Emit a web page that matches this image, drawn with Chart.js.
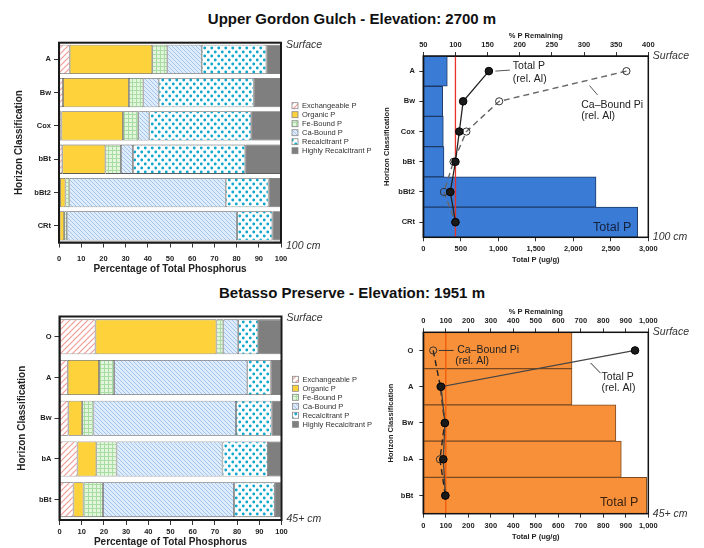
<!DOCTYPE html>
<html>
<head>
<meta charset="utf-8">
<script src="https://cdn.jsdelivr.net/npm/chart.js@4/dist/chart.umd.min.js"></script>
<style>
  html, body { margin:0; padding:0; background:#fff; }
  body { width:704px; height:548px; position:relative; overflow:hidden; font-family:"Liberation Sans", Arial, Helvetica, sans-serif; }
  canvas { position:absolute; }
  .title { position:absolute; left:0; width:704px; text-align:center; font-weight:bold; font-size:15px; line-height:18px; color:#111; }
</style>
</head>
<body>
<div class="title" style="top:10px">Upper Gordon Gulch - Elevation: 2700 m</div>
<div class="title" style="top:284px">Betasso Preserve - Elevation: 1951 m</div>
<canvas id="ggFrac" width="380" height="255" style="left:0;top:30px"></canvas>
<canvas id="ggTotal" width="324" height="245" style="left:380px;top:30px"></canvas>
<canvas id="bpFrac" width="380" height="248" style="left:0;top:300px"></canvas>
<canvas id="bpTotal" width="324" height="248" style="left:380px;top:300px"></canvas>
<script>
// ---------------- DATA ----------------
const fractionNames = ['Exchangeable P','Organic P','Fe-Bound P','Ca-Bound P','Recalcitrant P','Highly Recalcitrant P'];

// Upper Gordon Gulch (% of total phosphorus)
const ggHorizons = ['A','Bw','Cox','bBt','bBt2','CRt'];
const ggExchangeable        = [4.8, 1.8, 1.1, 1.5, 0.5, 0.3];
const ggOrganic             = [37.2, 29.7, 27.7, 19.4, 2.4, 2.0];
const ggFeBound             = [6.8, 6.5, 6.9, 7.0, 1.8, 1.2];
const ggCaBound             = [15.5, 6.9, 5.0, 5.4, 70.4, 76.7];
const ggRecalcitrant        = [29.1, 42.8, 45.9, 50.6, 19.3, 15.9];
const ggHighlyRecalcitrant  = [6.6, 12.3, 13.4, 16.1, 5.6, 3.9];
// Upper Gordon Gulch totals
const ggTotalP        = [320, 258, 267, 276, 2303, 2858];   // ug/g
const ggTotalPRelAl   = [152, 112, 106, 100, 92, 100];      // % P remaining
const ggCaBoundRelAl  = [366, 168, 117, 97, 82, 100];       // % P remaining

// Betasso Preserve (% of total phosphorus)
const bpHorizons = ['O','A','Bw','bA','bBt'];
const bpExchangeable        = [16.2, 3.7, 4.0, 8.1, 6.3];
const bpOrganic             = [54.5, 14.1, 6.2, 8.5, 4.5];
const bpFeBound             = [3.1, 6.8, 5.1, 9.1, 8.8];
const bpCaBound             = [6.7, 60.0, 64.2, 47.7, 59.0];
const bpRecalcitrant        = [9.0, 10.5, 16.0, 20.5, 18.4];
const bpHighlyRecalcitrant  = [10.5, 4.9, 4.5, 6.1, 3.0];
// Betasso totals
const bpTotalP        = [661, 661, 856, 880, 993];
const bpTotalPRelAl   = [941, 79, 96, 89, 98];
const bpCaBoundRelAl  = [44, 76, 95, 74, 98];

const ggPctTicks = { min: 50, max: 400, step: 50 };
const ggTotTicks = { min: 0, max: 3000, step: 500 };
const bpPctTicks = { min: 0, max: 1000, step: 100 };
const bpTotTicks = { min: 0, max: 1000, step: 100 };

// ---------------- STYLE ----------------
Chart.defaults.font.family = '"Liberation Sans", Arial, Helvetica, sans-serif';
Chart.defaults.color = '#222';

function tile(w, h, draw) {
  const c = document.createElement('canvas'); c.width = w; c.height = h;
  const g = c.getContext('2d'); draw(g, w, h);
  return g.createPattern(c, 'repeat');
}
const fills = [
  tile(6, 6, (g) => {
    g.fillStyle = '#ffffff'; g.fillRect(0, 0, 6, 6);
    g.strokeStyle = '#f29c96'; g.lineWidth = 1.2; g.beginPath();
    g.moveTo(-1, 7); g.lineTo(7, -1);
    g.moveTo(-1, 1); g.lineTo(1, -1);
    g.moveTo(5, 7); g.lineTo(7, 5);
    g.stroke();
  }),
  '#fdd23a',
  tile(4, 4, (g) => {
    g.fillStyle = '#e2f6dd'; g.fillRect(0, 0, 4, 4);
    g.fillStyle = '#a9dca1'; g.fillRect(0, 0, 4, 1); g.fillRect(0, 0, 1, 4);
  }),
  tile(4, 4, (g) => {
    g.fillStyle = '#deecfc'; g.fillRect(0, 0, 4, 4);
    g.strokeStyle = '#a3c4ec'; g.lineWidth = 1; g.beginPath();
    g.moveTo(-1, -1); g.lineTo(5, 5);
    g.moveTo(3, -1); g.lineTo(5, 1);
    g.moveTo(-1, 3); g.lineTo(1, 5);
    g.stroke();
  }),
  tile(7, 8, (g) => {
    g.fillStyle = '#ffffff'; g.fillRect(0, 0, 7, 8);
    g.fillStyle = '#10a8cf';
    g.beginPath(); g.arc(1.75, 2, 1.45, 0, Math.PI * 2); g.fill();
    g.beginPath(); g.arc(5.25, 6, 1.45, 0, Math.PI * 2); g.fill();
  }),
  '#7f7f7f'
];

const TICK_FONT = { size: 7.5, weight: 'bold' };
const TITLE_FONT_L = { size: 10, weight: 'bold' };
const TITLE_FONT_R = { size: 7.5, weight: 'bold' };
const ANNOT_FONT = '10.5px "Liberation Sans", Arial, sans-serif';

// ---------------- PLUGINS ----------------
const framePlugin = {
  id: 'frame',
  afterDatasetsDraw(chart, args, opts) {
    const { ctx, chartArea: a } = chart;
    ctx.save();
    ctx.strokeStyle = opts.color || '#111';
    ctx.lineWidth = opts.width || 1.5;
    ctx.strokeRect(a.left, a.top, a.right - a.left, a.bottom - a.top);
    ctx.restore();
  }
};

const sideLabelPlugin = {
  id: 'sideLabels',
  afterDraw(chart, args, opts) {
    const { ctx, chartArea: a } = chart;
    ctx.save();
    ctx.font = 'italic 10.5px "Liberation Sans", Arial, sans-serif';
    ctx.fillStyle = '#333';
    ctx.textAlign = 'left';
    ctx.textBaseline = 'middle';
    ctx.fillText(opts.top, a.right + opts.dx, a.top + opts.dyTop);
    ctx.fillText(opts.bottom, a.right + opts.dx, a.bottom + opts.dyBottom);
    ctx.restore();
  }
};

const fractionLegendPlugin = {
  id: 'fractionLegend',
  afterDraw(chart, args, opts) {
    const { ctx, chartArea: a } = chart;
    ctx.save();
    ctx.font = '7.5px "Liberation Sans", Arial, sans-serif';
    ctx.textBaseline = 'middle';
    ctx.textAlign = 'left';
    chart.data.datasets.forEach((ds, i) => {
      const y = opts.y + i * opts.step;
      const x = a.right + opts.dx;
      ctx.fillStyle = ds.backgroundColor;
      ctx.fillRect(x, y - 3, 6, 6);
      ctx.strokeStyle = '#888'; ctx.lineWidth = 0.8;
      ctx.strokeRect(x, y - 3, 6, 6);
      ctx.fillStyle = '#333';
      ctx.fillText(ds.label, x + 10, y + 0.5);
    });
    ctx.restore();
  }
};

const refLinePlugin = {
  id: 'refLine',
  afterDatasetDraw(chart, args, opts) {
    if (args.index !== 0) return;
    const { ctx, chartArea: a } = chart;
    const x = chart.scales.xTop.getPixelForValue(opts.value);
    ctx.save();
    ctx.strokeStyle = opts.color; ctx.lineWidth = opts.width;
    ctx.beginPath(); ctx.moveTo(x, a.top); ctx.lineTo(x, a.bottom); ctx.stroke();
    ctx.restore();
  }
};

function seg(ctx, x0, y0, x1, y1) {
  ctx.beginPath(); ctx.moveTo(x0, y0); ctx.lineTo(x1, y1); ctx.stroke();
}
const annotPlugin = {
  id: 'annot',
  afterDraw(chart, args, opts) {
    const ctx = chart.ctx;
    ctx.save();
    ctx.strokeStyle = '#555'; ctx.lineWidth = 1;
    ctx.fillStyle = '#222';
    ctx.font = ANNOT_FONT;
    ctx.textBaseline = 'middle'; ctx.textAlign = 'left';
    opts.draw(chart, ctx);
    ctx.restore();
  }
};

function annotateGG(chart, ctx) {
  const xs = chart.scales.xTop, ys = chart.scales.y, a = chart.chartArea;
  const px = xs.getPixelForValue(ggTotalPRelAl[0]), py = ys.getPixelForValue(0);
  seg(ctx, px + 6.5, py, px + 21, py - 1);
  ctx.fillText('Total P', px + 24, py - 4.6);
  ctx.fillText('(rel. Al)', px + 24, py + 7.7);
  const x0 = xs.getPixelForValue(ggCaBoundRelAl[1]), y0 = ys.getPixelForValue(1);
  const x1 = xs.getPixelForValue(ggCaBoundRelAl[0]), y1 = ys.getPixelForValue(0);
  const ax = x0 + 0.71 * (x1 - x0), ay = y0 + 0.71 * (y1 - y0);
  seg(ctx, ax, ay + 5.7, ax + 8, ay + 15);
  ctx.fillText('Ca\u2013Bound Pi', ax - 8.3, ay + 25);
  ctx.fillText('(rel. Al)', ax - 8.3, ay + 36);
  ctx.font = '12.5px "Liberation Sans", Arial, sans-serif';
  ctx.fillStyle = '#14213d';
  ctx.textAlign = 'right';
  ctx.fillText('Total P', a.right - 17, a.bottom - 9.6);
}

function annotateBP(chart, ctx) {
  const xs = chart.scales.xTop, ys = chart.scales.y, a = chart.chartArea;
  const px = xs.getPixelForValue(bpCaBoundRelAl[0]), py = ys.getPixelForValue(0);
  ctx.strokeStyle = '#333';
  seg(ctx, px + 5.5, py, px + 20.5, py);
  ctx.fillText('Ca\u2013Bound Pi', px + 24, py);
  ctx.fillText('(rel. Al)', px + 22, py + 10.5);
  const x0 = xs.getPixelForValue(bpTotalPRelAl[1]), y0 = ys.getPixelForValue(1);
  const x1 = xs.getPixelForValue(bpTotalPRelAl[0]), y1 = ys.getPixelForValue(0);
  const ax = x0 + 0.771 * (x1 - x0), ay = y0 + 0.771 * (y1 - y0);
  seg(ctx, ax, ay + 4.2, ax + 10, ay + 14.5);
  ctx.fillText('Total P', ax + 11, ay + 18.2);
  ctx.fillText('(rel. Al)', ax + 11, ay + 29.2);
  ctx.font = '12.5px "Liberation Sans", Arial, sans-serif';
  ctx.fillStyle = '#3a2210';
  ctx.textAlign = 'right';
  ctx.fillText('Total P', a.right - 10, a.bottom - 10.7);
}

// ---------------- BUILDERS ----------------
function fractionDatasets(series, barPct) {
  return fractionNames.map((name, i) => ({
    label: name,
    data: series[i],
    backgroundColor: fills[i],
    borderColor: '#5e5e5e',
    borderWidth: 0.8,
    borderSkipped: false,
    barPercentage: barPct,
    categoryPercentage: 1
  }));
}

function fractionChart(id, labels, series, cfg) {
  return new Chart(document.getElementById(id), {
    type: 'bar',
    data: { labels: labels, datasets: fractionDatasets(series, cfg.barPct) },
    options: {
      responsive: false, animation: false, events: [], locale: 'en-US',
      indexAxis: 'y',
      layout: { padding: cfg.padding },
      plugins: {
        legend: { display: false }, tooltip: { enabled: false },
        frame: { color: '#1a1a1a', width: 2 },
        sideLabels: { top: 'Surface', bottom: cfg.bottomLabel, dx: 5, dyTop: cfg.dyTop, dyBottom: cfg.dyBottom },
        fractionLegend: { dx: 11, y: cfg.legendY, step: 9 }
      },
      scales: {
        x: {
          stacked: true, min: 0, max: 100,
          ticks: { stepSize: 10, font: TICK_FONT, color: '#222', padding: cfg.xTickPad, maxRotation: 0, autoSkip: false },
          grid: { drawOnChartArea: false, tickLength: 5, tickColor: '#333', tickWidth: 1 },
          border: { display: true, color: '#1a1a1a', width: 1.5 },
          title: { display: true, text: 'Percentage of Total Phosphorus', font: TITLE_FONT_L, color: '#222', padding: { top: 0, bottom: cfg.xTitlePad } },
          afterFit: (ax) => { ax.height = cfg.xHeight; }
        },
        y: {
          stacked: true,
          ticks: { font: TICK_FONT, color: '#222', padding: 3 },
          grid: { offset: false, drawOnChartArea: false, tickLength: 5, tickColor: '#333', tickWidth: 1 },
          border: { display: true, color: '#1a1a1a', width: 1.5 },
          title: { display: true, text: 'Horizon Classification', font: TITLE_FONT_L, color: '#222', padding: { top: cfg.yTitlePad, bottom: 0 } },
          afterFit: (ax) => { ax.width = cfg.yWidth; }
        }
      }
    },
    plugins: [framePlugin, sideLabelPlugin, fractionLegendPlugin]
  });
}

function totalChart(id, labels, totals, totRel, caRel, cfg) {
  return new Chart(document.getElementById(id), {
    type: 'bar',
    data: {
      labels: labels,
      datasets: [
        {
          type: 'bar', label: 'Total P', data: totals, indexAxis: 'y',
          xAxisID: 'x', yAxisID: 'y', order: 3,
          backgroundColor: cfg.barColor, borderColor: cfg.barBorder, borderWidth: 1,
          borderSkipped: false, barPercentage: 1, categoryPercentage: 1
        },
        {
          type: 'line', label: 'Ca-Bound Pi (rel. Al)', data: caRel, indexAxis: 'y',
          xAxisID: 'xTop', yAxisID: 'y', order: 2,
          borderColor: cfg.caLine, borderWidth: 1.4, borderDash: [6, 4], fill: false, tension: 0,
          pointRadius: 3.6, pointBorderWidth: 1, pointBackgroundColor: 'rgba(0,0,0,0)', pointBorderColor: '#333'
        },
        {
          type: 'line', label: 'Total P (rel. Al)', data: totRel, indexAxis: 'y',
          xAxisID: 'xTop', yAxisID: 'y', order: 1,
          borderColor: cfg.totLine, borderWidth: 1.3, fill: false, tension: 0,
          pointRadius: 3.8, pointBorderWidth: 1, pointBackgroundColor: '#1a1a1a', pointBorderColor: '#000'
        }
      ]
    },
    options: {
      responsive: false, animation: false, events: [], locale: 'en-US',
      indexAxis: 'y',
      layout: { padding: cfg.padding },
      plugins: {
        legend: { display: false }, tooltip: { enabled: false },
        frame: { color: '#111', width: 1.5 },
        sideLabels: { top: 'Surface', bottom: cfg.bottomLabel, dx: 4.5, dyTop: 0, dyBottom: 0 },
        refLine: { value: 100, color: cfg.refColor, width: 1.3 },
        annot: { draw: cfg.annotate }
      },
      scales: {
        x: {
          type: 'linear', position: 'bottom', axis: 'x',
          min: cfg.tot.min, max: cfg.tot.max,
          ticks: { stepSize: cfg.tot.step, font: TICK_FONT, color: '#222', padding: 3.5, maxRotation: 0, autoSkip: false },
          grid: { drawOnChartArea: false, tickLength: 4, tickColor: '#333' },
          border: { display: true, color: '#111', width: 1 },
          title: { display: true, text: 'Total P (ug/g)', font: TITLE_FONT_R, color: '#222', padding: { top: 0, bottom: cfg.botTitlePad } },
          afterFit: (ax) => { ax.height = cfg.botHeight; }
        },
        xTop: {
          type: 'linear', position: 'top', axis: 'x',
          min: cfg.pct.min, max: cfg.pct.max,
          ticks: { stepSize: cfg.pct.step, font: TICK_FONT, color: '#222', padding: cfg.topTickPad, maxRotation: 0, autoSkip: false },
          grid: { drawOnChartArea: false, tickLength: 4, tickColor: '#333' },
          border: { display: true, color: '#111', width: 1 },
          title: { display: true, text: '% P Remaining', font: TITLE_FONT_R, color: '#222', padding: { top: cfg.topTitlePad, bottom: 0 } },
          afterFit: (ax) => { ax.height = cfg.topHeight; }
        },
        y: {
          type: 'category',
          ticks: { font: TICK_FONT, color: '#222', padding: cfg.yTickPad },
          grid: { offset: false, drawOnChartArea: false, tickLength: 4, tickColor: '#333' },
          border: { display: true, color: '#111', width: 1 },
          title: { display: true, text: 'Horizon Classification', font: TITLE_FONT_R, color: '#222', padding: { top: cfg.yTitlePad, bottom: 0 } },
          afterFit: (ax) => { ax.width = cfg.yWidth; }
        }
      }
    },
    plugins: [refLinePlugin, framePlugin, sideLabelPlugin, annotPlugin]
  });
}

// ---------------- CHARTS ----------------
fractionChart('ggFrac', ggHorizons,
  [ggExchangeable, ggOrganic, ggFeBound, ggCaBound, ggRecalcitrant, ggHighlyRecalcitrant],
  { barPct: 0.88, padding: { top: 12.7, right: 99, bottom: 0, left: 0 },
    xHeight: 42.5, xTickPad: 6.5, xTitlePad: 9.7, yWidth: 59, yTitlePad: 13,
    bottomLabel: '100 cm', dyTop: 2.3, dyBottom: 3.5, legendY: 75.7 });

fractionChart('bpFrac', bpHorizons,
  [bpExchangeable, bpOrganic, bpFeBound, bpCaBound, bpRecalcitrant, bpHighlyRecalcitrant],
  { barPct: 0.86, padding: { top: 16.5, right: 98.5, bottom: 0, left: 0 },
    xHeight: 28, xTickPad: 2, xTitlePad: 0, yWidth: 59.5, yTitlePad: 16.7,
    bottomLabel: '45+ cm', dyTop: 1.5, dyBottom: -0.7, legendY: 79.3 });

totalChart('ggTotal', ggHorizons, ggTotalP, ggTotalPRelAl, ggCaBoundRelAl,
  { padding: { top: 0, right: 55.7, bottom: 0, left: 0 },
    tot: ggTotTicks, pct: ggPctTicks,
    barColor: '#3a7bd5', barBorder: '#1d3a66', refColor: '#e8322a',
    caLine: '#666', totLine: '#222',
    topHeight: 26, topTickPad: 2.5, topTitlePad: 1.5,
    botHeight: 37.7, botTitlePad: 10.5,
    yWidth: 43.3, yTitlePad: 2.8, yTickPad: 4.3,
    bottomLabel: '100 cm', annotate: annotateGG });

totalChart('bpTotal', bpHorizons, bpTotalP, bpTotalPRelAl, bpCaBoundRelAl,
  { padding: { top: 0, right: 55.7, bottom: 0, left: 0 },
    tot: bpTotTicks, pct: bpPctTicks,
    barColor: '#f8903a', barBorder: '#7a4a22', refColor: '#f05a0a',
    caLine: '#222', totLine: '#444',
    topHeight: 32.3, topTickPad: 2.8, topTitlePad: 7.5,
    botHeight: 34.3, botTitlePad: 6.5,
    yWidth: 43.3, yTitlePad: 6.5, yTickPad: 6,
    bottomLabel: '45+ cm', annotate: annotateBP });
</script>
</body>
</html>
